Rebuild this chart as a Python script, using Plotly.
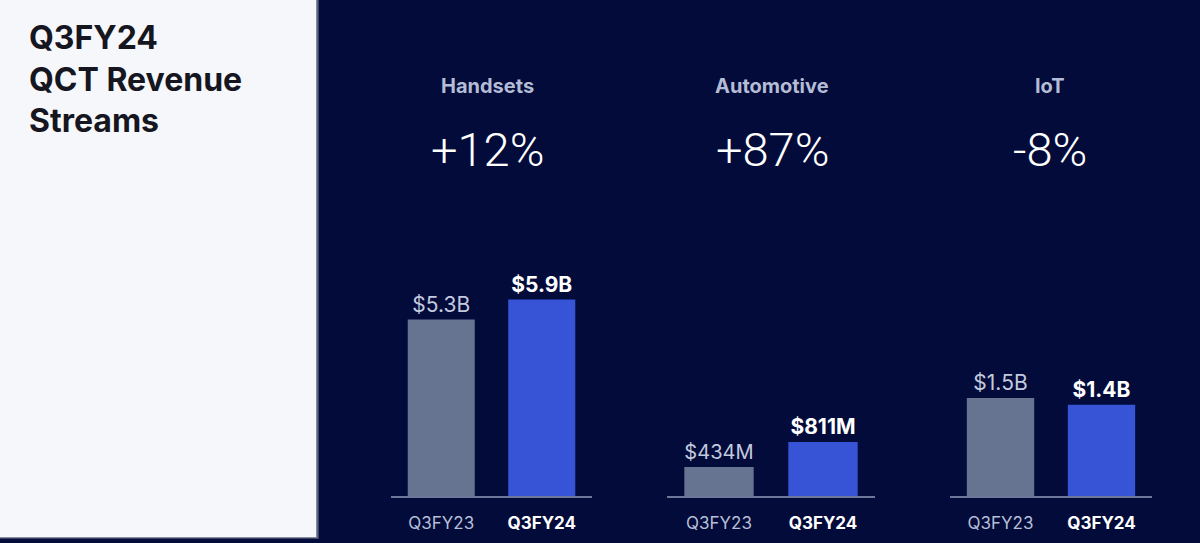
import plotly.graph_objects as go

# data
segments = ["Handsets", "Automotive", "IoT"]
growth = ["+12%", "+87%", "-8%"]
periods = ["Q3FY23", "Q3FY24"]
handsets = [5.3, 5.9]      # $B
automotive = [434, 811]    # $M
iot = [1.5, 1.4]           # $B
units = ["B", "M", "B"]

W, H = 1200, 543
NAVY = "#020b3a"
GRAY_BAR = "#667391"
BLUE_BAR = "#3754d6"
LIGHT = "#b7bfd7"

def px_x(p):
    return p / W

def px_y(p):
    return (H - p) / H

fig = go.Figure()

series = [handsets, automotive, iot]
x_dom = [(391, 592), (667, 875), (950, 1152)]
y_top = [7.39, 3693, 3.77]
head_x = [487, 772, 1050]

for i, vals in enumerate(series):
    n = "" if i == 0 else str(i + 1)
    labels = []
    for j, v in enumerate(vals):
        t = "$" + str(v) + units[i]
        labels.append("<b>" + t + "</b>" if j == 1 else t)
    fig.add_trace(go.Bar(
        x=periods, y=vals, text=labels, textposition="outside",
        textfont=dict(family="Inter", size=21, color=["#c3cadf", "#ffffff"]),
        marker=dict(color=[GRAY_BAR, BLUE_BAR], line=dict(width=0)),
        cliponaxis=False, xaxis="x" + n, yaxis="y" + n, showlegend=False,
        hoverinfo="skip",
    ))
    fig.update_layout(**{
        "xaxis" + n: dict(
            domain=[px_x(x_dom[i][0]), px_x(x_dom[i][1])],
            anchor="y" + n, showline=True, linecolor="#6b7899", linewidth=2,
            showgrid=False, zeroline=False, ticks="outside", ticklen=11,
            tickcolor="rgba(0,0,0,0)", tickmode="array", tickvals=periods,
            ticktext=["<span style='color:%s'>%s</span>" % (LIGHT, periods[0]),
                      "<b>%s</b>" % periods[1]],
            tickfont=dict(family="Inter", size=17, color="#ffffff"),
            fixedrange=True,
        ),
        "yaxis" + n: dict(
            domain=[px_y(496), px_y(250)], anchor="x" + n,
            range=[0, y_top[i]], visible=False, fixedrange=True,
        ),
    })
    fig.add_annotation(x=px_x(head_x[i]), y=px_y(86), xref="paper", yref="paper",
                       xanchor="center", yanchor="middle",
                       text="<b>" + segments[i] + "</b>", showarrow=False,
                       font=dict(family="Inter", size=20, color="#b4bcd6"))
    fig.add_annotation(x=px_x(head_x[i]), y=px_y(150), xref="paper", yref="paper",
                       xanchor="center", yanchor="middle",
                       text=growth[i], showarrow=False,
                       font=dict(family="Roboto", size=47, color="#ffffff", weight=300))

# left white panel with a soft shadow
fig.add_shape(type="rect", xref="paper", yref="paper", x0=0, x1=px_x(319),
              y0=px_y(539), y1=1, fillcolor="#a4a7b3", opacity=0.35,
              line=dict(width=0), layer="below")
fig.add_shape(type="rect", xref="paper", yref="paper", x0=0, x1=px_x(317.5),
              y0=px_y(538), y1=1, fillcolor="#b9bcc6", opacity=0.6,
              line=dict(width=0), layer="below")
fig.add_shape(type="rect", xref="paper", yref="paper", x0=0, x1=px_x(316),
              y0=px_y(537), y1=1, fillcolor="#f6f7fa",
              line=dict(width=0), layer="below")

fig.add_annotation(x=px_x(27), y=px_y(16), xref="paper", yref="paper",
                   xanchor="left", yanchor="top", align="left", showarrow=False,
                   text="<b>Q3FY24<br>QCT Revenue<br>Streams</b>",
                   font=dict(family="Inter", size=32, color="#15161f"))

fig.update_layout(
    width=W, height=H, margin=dict(l=0, r=0, t=0, b=0),
    paper_bgcolor=NAVY, plot_bgcolor=NAVY,
    bargap=0.333,
)

fig.write_html("out.html", config={"displayModeBar": False},
               post_script="document.body.style.margin='0';")
